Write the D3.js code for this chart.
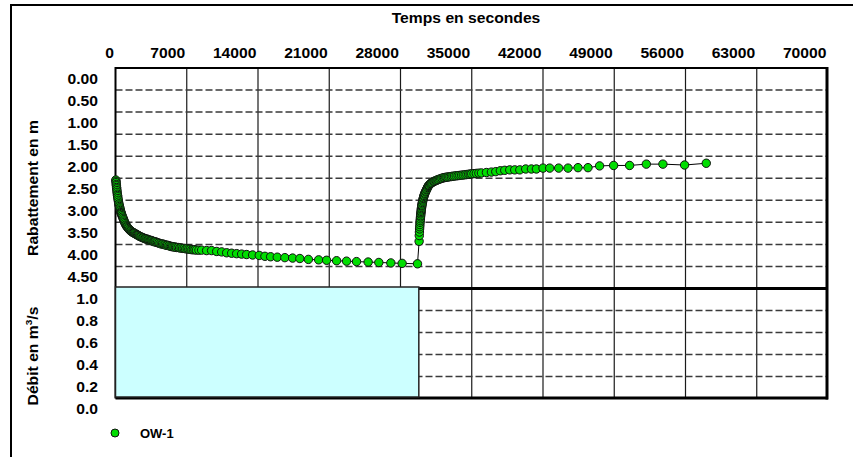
<!DOCTYPE html>
<html><head><meta charset="utf-8">
<script src="https://cdn.jsdelivr.net/npm/d3@7"></script>
<style>
body{margin:0;background:#fff}
svg{display:block}
text{font-family:"Liberation Sans",Arial,sans-serif;font-weight:bold;font-size:14px;fill:#000}
</style></head><body>
<svg id="c" width="853" height="457"></svg>
<script>
// ---- data ----
const xTicks = [0,7000,14000,21000,28000,35000,42000,49000,56000,63000,70000];
const sTicks = [0,0.5,1,1.5,2,2.5,3,3.5,4,4.5];
const qTicks = [0,0.2,0.4,0.6,0.8,1.0];
const seriesName = ["OW-1"];
const pumpTimes = [30,45,60,75,90,105,120,140,160,180,200,220,240,270,300,330,360,390,420,450,480,510,540,570,600,650,700,750,800,850,900,960,1020,1080,1140,1200,1270,1350,1420,1500,1580,1650,1730,1800,1880,1950,2030,2100,2180,2250,2330,2400,2500,2600,2700,2800,2900,3000,3100,3200,3300,3400,3500,3600,3700,3800,3900,4000,4120,4250,4370,4500,4620,4750,4880,5000,5120,5250,5380,5500,5620,5750,5880,6000,6150,6300,6450,6600,6750,6900,7050,7200,7350,7500,7650,7800,7950,8200,8460,8950,9440,9940,10430,10920,11410,11900,12390,12880,13470,14120,14680,15240,15890,16640,17400,18110,18950,19960,20740,21720,22700,23680,24820,25870,27050,28160,29670];
const pumpDraw = [2.54,2.57,2.60,2.64,2.67,2.71,2.74,2.78,2.82,2.86,2.89,2.92,2.96,3.00,3.04,3.08,3.11,3.14,3.17,3.20,3.23,3.26,3.28,3.30,3.32,3.35,3.38,3.41,3.44,3.47,3.50,3.53,3.56,3.58,3.60,3.62,3.64,3.66,3.68,3.69,3.71,3.72,3.73,3.74,3.75,3.76,3.77,3.78,3.79,3.80,3.81,3.82,3.83,3.84,3.85,3.86,3.87,3.88,3.88,3.89,3.90,3.91,3.91,3.92,3.93,3.94,3.94,3.95,3.96,3.97,3.98,3.99,3.99,4.00,4.01,4.02,4.02,4.03,4.04,4.05,4.05,4.06,4.06,4.07,4.07,4.08,4.08,4.09,4.09,4.10,4.10,4.11,4.11,4.12,4.12,4.12,4.13,4.13,4.13,4.14,4.14,4.16,4.17,4.19,4.20,4.21,4.22,4.23,4.24,4.25,4.27,4.28,4.29,4.30,4.31,4.32,4.34,4.35,4.36,4.37,4.38,4.39,4.40,4.41,4.42,4.43,4.44];
const recTimes = [29830,29845,29860,29875,29890,29905,29920,29935,29950,29965,29980,29995,30010,30025,30040,30055,30070,30085,30100,30125,30150,30175,30200,30230,30260,30290,30320,30360,30400,30450,30500,30550,30600,30650,30700,30750,30800,30870,30950,31020,31100,31200,31300,31400,31500,31600,31700,31820,31950,32070,32200,32320,32450,32570,32700,32850,33000,33150,33300,33470,33650,33820,34000,34170,34350,34520,34700,34850,35000,35220,35450,35700,35950,36440,36930,37360,37810,38240,38730,39220,39720,40300,40860,41350,42000,42660,43540,44460,45440,46420,47560,48940,50510,52150,53780,55910,58040];
const recDraw = [3.93,3.80,3.72,3.65,3.60,3.55,3.50,3.46,3.42,3.38,3.35,3.31,3.28,3.25,3.22,3.19,3.16,3.13,3.11,3.08,3.05,3.02,2.99,2.96,2.94,2.91,2.89,2.86,2.84,2.81,2.79,2.76,2.74,2.71,2.69,2.67,2.66,2.64,2.62,2.61,2.60,2.58,2.57,2.56,2.55,2.54,2.53,2.52,2.51,2.50,2.49,2.485,2.48,2.475,2.47,2.465,2.46,2.455,2.45,2.445,2.44,2.435,2.43,2.425,2.42,2.415,2.41,2.405,2.40,2.395,2.39,2.385,2.38,2.37,2.36,2.35,2.33,2.32,2.31,2.31,2.31,2.29,2.29,2.29,2.27,2.27,2.27,2.27,2.26,2.26,2.22,2.21,2.21,2.18,2.18,2.20,2.16];
const rateStart = [0];
const rateEnd = [29800];
const rateValue = [1.0];

// ---- layout ----
const svg = d3.select("#c");
const SX = 1.12;
const x = d3.scaleLinear().domain([0,70000]).range([115.5,828]);
const yS = d3.scaleLinear().domain([0,5]).range([68,288.5]);
const yQ = d3.scaleLinear().domain([0,1]).range([398.5,288.5]);

const pts = pumpTimes.map((t,i)=>({t, s:pumpDraw[i]}))
  .concat(recTimes.map((t,i)=>({t, s:recDraw[i]})));

// outer frame
svg.append("rect").attr("x",11).attr("y",5).attr("width",900).attr("height",500)
  .attr("fill","none").attr("stroke","#000").attr("stroke-width",2);

// vertical grid
svg.append("g").selectAll("line").data(xTicks.slice(1,-1)).join("line")
  .attr("x1",d=>x(d)).attr("x2",d=>x(d)).attr("y1",yS(0)).attr("y2",yQ(0))
  .attr("stroke","#1a1a1a").attr("stroke-width",1.2);
// horizontal dashed grid (upper)
svg.append("g").selectAll("line").data(sTicks.slice(1)).join("line")
  .attr("x1",x(0)).attr("x2",x(70000)).attr("y1",d=>yS(d)).attr("y2",d=>yS(d))
  .attr("stroke","#3a3a3a").attr("stroke-width",1.5).attr("stroke-dasharray","7,3");
// lower dashed grid
svg.append("g").selectAll("line").data(qTicks.slice(1,-1)).join("line")
  .attr("x1",x(0)).attr("x2",x(70000)).attr("y1",d=>yQ(d)).attr("y2",d=>yQ(d))
  .attr("stroke","#3a3a3a").attr("stroke-width",1.5).attr("stroke-dasharray","7,3");

// panel borders
const bord = svg.append("g").attr("stroke","#000");
bord.append("line").attr("x1",x(0)).attr("x2",x(70000)).attr("y1",yS(0)).attr("y2",yS(0)).attr("stroke-width",2);
bord.append("line").attr("x1",x(0)).attr("x2",x(0)).attr("y1",yS(0)-1).attr("y2",yQ(0)).attr("stroke-width",2);
bord.append("line").attr("x1",x(70000)-1).attr("x2",x(70000)-1).attr("y1",yS(0)-1).attr("y2",yQ(0)+1).attr("stroke-width",3);
bord.append("line").attr("x1",x(0)).attr("x2",x(70000)).attr("y1",yQ(1)).attr("y2",yQ(1)).attr("stroke-width",3);
bord.append("line").attr("x1",x(0)).attr("x2",x(70000)).attr("y1",yQ(0)-0.5).attr("y2",yQ(0)-0.5).attr("stroke-width",3);

// pumping rate bar
svg.append("g").selectAll("rect").data(rateValue).join("rect")
  .attr("x",(d,i)=>x(rateStart[i])).attr("width",(d,i)=>x(rateEnd[i])-x(rateStart[i]))
  .attr("y",d=>yQ(d)-1.5).attr("height",d=>yQ(0)-yQ(d))
  .attr("fill","#ccffff").attr("stroke","#222").attr("stroke-width",1.5);

// series
svg.append("path").datum(pts)
  .attr("d",d3.line().x(d=>x(d.t)).y(d=>yS(d.s)))
  .attr("fill","none").attr("stroke","#000").attr("stroke-width",1);
svg.append("g").selectAll("circle").data(pts).join("circle")
  .attr("cx",d=>x(d.t)).attr("cy",d=>yS(d.s)).attr("r",4.2)
  .attr("fill","#00dd00").attr("stroke","#111").attr("stroke-width",1);

// axes
const ax = svg.append("g").attr("transform","translate(0,58)")
  .call(d3.axisTop(x).tickValues(xTicks).tickSize(0).tickPadding(0).tickFormat(d=>String(d)));
ax.select(".domain").remove();
ax.selectAll("text").attr("x",null).attr("y",null).attr("dy",null)
  .attr("text-anchor","end").attr("transform",`translate(-2,0) scale(${SX},1)`)
  .style("font-size","14px").style("font-family","'Liberation Sans',Arial,sans-serif");

const ayS = svg.append("g").attr("transform","translate(98,0)")
  .call(d3.axisLeft(yS).tickValues(sTicks).tickSize(0).tickFormat(d3.format(".2f")));
ayS.select(".domain").remove();
ayS.selectAll("text").attr("x",null).attr("y",null).attr("dy",null)
  .attr("text-anchor","end").attr("transform",`translate(0,15) scale(${SX},1)`)
  .style("font-size","14px").style("font-family","'Liberation Sans',Arial,sans-serif");

const ayQ = svg.append("g").attr("transform","translate(98,0)")
  .call(d3.axisLeft(yQ).tickValues(qTicks).tickSize(0).tickFormat(d3.format(".1f")));
ayQ.select(".domain").remove();
ayQ.selectAll("text").attr("x",null).attr("y",null).attr("dy",null)
  .attr("text-anchor","end").attr("transform",`translate(0,15) scale(${SX},1)`)
  .style("font-size","14px").style("font-family","'Liberation Sans',Arial,sans-serif");

// titles
svg.append("text").attr("text-anchor","middle")
  .attr("transform",`translate(466,23) scale(${SX},1)`).text("Temps en secondes");
svg.append("text").attr("text-anchor","middle")
  .attr("transform",`translate(38,188) rotate(-90) scale(${SX},1)`).text("Rabattement en m");
const dt = svg.append("text").attr("text-anchor","middle")
  .attr("transform",`translate(38,356) rotate(-90) scale(${SX},1)`);
dt.append("tspan").text("Débit en m");
dt.append("tspan").attr("dy",-6).style("font-size","9px").text("3");
dt.append("tspan").attr("dy",6).text("/s");

// legend
const lg = svg.append("g").attr("transform","translate(115,433)");
lg.append("circle").attr("r",4).attr("fill","#00dd00").attr("stroke","#111");
lg.selectAll("text").data(seriesName).join("text")
  .attr("transform","translate(25,5)").style("font-size","13px").text(d=>d);
</script></body></html>
